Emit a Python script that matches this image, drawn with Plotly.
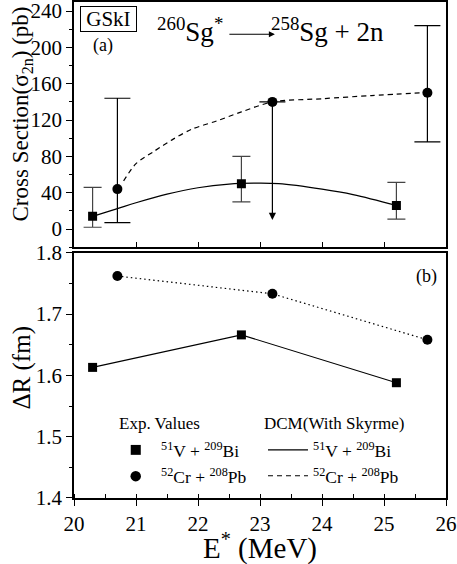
import plotly.graph_objects as go

# ---------------- data ----------------
# (a) cross sections, experimental
E_V_exp = [20.3, 22.7, 25.2]
sig_V_exp = [14, 50, 26]
sig_V_up = [32, 30, 25.5]
sig_V_dn = [12, 20, 15]

E_Cr_exp = [20.7, 23.2, 25.7]
sig_Cr_exp = [44, 140, 150]
sig_Cr_up = [100, None, 74]
sig_Cr_dn = [37, None, 54]

# upper-limit arrow for the 23.2 MeV point
limit_E = [23.2]
limit_top = [140]
limit_bottom = [10]

# (a) DCM (with Skyrme) calculations
E_V_dcm = [20.3, 20.7, 21.0, 21.5, 22.0, 22.5, 22.9, 23.3, 24.0, 24.5, 25.2]
sig_V_dcm = [14, 22.5, 29, 38.5, 45.5, 49.5, 50.5, 50, 44, 38, 26]
E_Cr_dcm = [20.8, 21.0, 21.3, 21.6, 21.9, 22.3, 22.7, 23.2, 24.0, 24.8, 25.7]
sig_Cr_dcm = [53, 72, 86, 99, 110, 119, 129, 140, 143.5, 147, 150.5]

# (b) Delta R
E_V_dR = [20.3, 22.7, 25.2]
dR_V = [1.613, 1.666, 1.588]
E_Cr_dR = [20.7, 23.2, 25.7]
dR_Cr = [1.762, 1.733, 1.658]

x_ticks = [20, 21, 22, 23, 24, 25, 26]
y1_ticks = [0, 40, 80, 120, 160, 200, 240]
y2_ticks = [1.4, 1.5, 1.6, 1.7, 1.8]

FONT = "Liberation Serif"

fig = go.Figure()

# top panel: theory curves
fig.add_trace(go.Scatter(x=E_V_dcm, y=sig_V_dcm, mode="lines", line=dict(color="black", width=1.2, shape="spline", smoothing=1.0),
                         xaxis="x", yaxis="y", showlegend=False))
fig.add_trace(go.Scatter(x=E_Cr_dcm, y=sig_Cr_dcm, mode="lines", line=dict(color="black", width=1.2, dash="5px,4px", shape="spline", smoothing=0.8),
                         xaxis="x", yaxis="y", showlegend=False))
# top panel: experiment
fig.add_trace(go.Scatter(x=E_V_exp, y=sig_V_exp, mode="markers", marker=dict(symbol="square", size=9, color="black"),
                         error_y=dict(type="data", symmetric=False, array=sig_V_up, arrayminus=sig_V_dn, color="#444", thickness=1.2, width=9),
                         xaxis="x", yaxis="y", showlegend=False))
fig.add_trace(go.Scatter(x=E_Cr_exp, y=sig_Cr_exp, mode="markers", marker=dict(symbol="circle", size=10, color="black"),
                         error_y=dict(type="data", symmetric=False, array=sig_Cr_up, arrayminus=sig_Cr_dn, color="black", thickness=1.2, width=13),
                         xaxis="x", yaxis="y", showlegend=False))

# bottom panel
fig.add_trace(go.Scatter(x=E_V_dR, y=dR_V, mode="lines+markers", line=dict(color="black", width=1.1),
                         marker=dict(symbol="square", size=9, color="black"), xaxis="x2", yaxis="y2", showlegend=False))
fig.add_trace(go.Scatter(x=E_Cr_dR, y=dR_Cr, mode="lines+markers", line=dict(color="black", width=1.2, dash="1.5px,3px"),
                         marker=dict(symbol="circle", size=10, color="black"), xaxis="x2", yaxis="y2", showlegend=False))

annotations = []
shapes = []

# upper-limit arrow
for xe, yt, yb in zip(limit_E, limit_top, limit_bottom):
    annotations.append(dict(x=xe, y=yb, ax=xe, ay=yt, xref="x", yref="y", axref="x", ayref="y",
                            text="", showarrow=True, arrowhead=2, arrowsize=1.2, arrowwidth=1.2, arrowcolor="black"))

# panel texts
annotations += [
    dict(x=0.092, y=0.965, xref="paper", yref="paper", text="&nbsp;GSkI&nbsp;", showarrow=False,
         font=dict(family=FONT, size=21, color="black"), bordercolor="black", borderwidth=1, borderpad=0,
         xanchor="center", yanchor="middle"),
    dict(x=0.077, y=0.913, xref="paper", yref="paper", text="(a)", showarrow=False,
         font=dict(family=FONT, size=18, color="black"), xanchor="center", yanchor="middle"),
    dict(x=0.313, y=0.944, xref="paper", yref="paper", text="<sup>260</sup>Sg<sup>*</sup>", showarrow=False,
         font=dict(family=FONT, size=27, color="black"), xanchor="center", yanchor="middle"),
    dict(x=0.540, y=0.935, xref="paper", yref="paper", text="", showarrow=True, ax=-47, ay=0, axref="pixel", ayref="pixel",
         arrowhead=2, arrowsize=1, arrowwidth=1.2, arrowcolor="black"),
    dict(x=0.524, y=0.944, xref="paper", yref="paper", text="<sup>258</sup>Sg + 2n", showarrow=False,
         font=dict(family=FONT, size=27, color="black"), xanchor="left", yanchor="middle"),
    dict(x=0.948, y=0.446, xref="paper", yref="paper", text="(b)", showarrow=False,
         font=dict(family=FONT, size=18, color="black"), xanchor="center", yanchor="middle"),
    # axis titles
    dict(x=-0.140, y=0.775, xref="paper", yref="paper", text="Cross Section(σ<sub>2n</sub>) (pb)", showarrow=False,
         textangle=-90, font=dict(family=FONT, size=23, color="black"), xanchor="center", yanchor="middle"),
    dict(x=-0.140, y=0.263, xref="paper", yref="paper", text="ΔR (fm)", showarrow=False,
         textangle=-90, font=dict(family=FONT, size=25, color="black"), xanchor="center", yanchor="middle"),
    dict(x=0.501, y=-0.098, xref="paper", yref="paper", text="E<sup>*</sup> (MeV)", showarrow=False,
         font=dict(family=FONT, size=29, color="black"), xanchor="center", yanchor="middle"),
    # legend
    dict(x=0.2285, y=0.150, xref="paper", yref="paper", text="Exp. Values", showarrow=False,
         font=dict(family=FONT, size=17, color="black"), xanchor="center", yanchor="middle"),
    dict(x=0.700, y=0.150, xref="paper", yref="paper", text="DCM(With Skyrme)", showarrow=False,
         font=dict(family=FONT, size=17, color="black"), xanchor="center", yanchor="middle"),
    dict(x=0.2275, y=0.097, xref="paper", yref="paper", text="<sup>51</sup>V + <sup>209</sup>Bi", showarrow=False,
         font=dict(family=FONT, size=17.5, color="black"), xanchor="left", yanchor="middle"),
    dict(x=0.2275, y=0.044, xref="paper", yref="paper", text="<sup>52</sup>Cr + <sup>208</sup>Pb", showarrow=False,
         font=dict(family=FONT, size=17.5, color="black"), xanchor="left", yanchor="middle"),
    dict(x=0.638, y=0.097, xref="paper", yref="paper", text="<sup>51</sup>V + <sup>209</sup>Bi", showarrow=False,
         font=dict(family=FONT, size=17.5, color="black"), xanchor="left", yanchor="middle"),
    dict(x=0.638, y=0.044, xref="paper", yref="paper", text="<sup>52</sup>Cr + <sup>208</sup>Pb", showarrow=False,
         font=dict(family=FONT, size=17.5, color="black"), xanchor="left", yanchor="middle"),
]

# legend glyphs (paper coordinates)
shapes += [
    dict(type="rect", xref="paper", yref="paper", x0=0.1525, x1=0.1795, y0=0.087, y1=0.107,
         fillcolor="black", line=dict(width=0)),
    dict(type="circle", xref="paper", yref="paper", x0=0.1518, x1=0.1800, y0=0.0335, y1=0.0545,
         fillcolor="black", line=dict(width=0)),
    dict(type="line", xref="paper", yref="paper", x0=0.5215, x1=0.629, y0=0.097, y1=0.097,
         line=dict(color="black", width=1.1)),
    dict(type="line", xref="paper", yref="paper", x0=0.5215, x1=0.629, y0=0.045, y1=0.045,
         line=dict(color="black", width=1.1, dash="5px,4px")),
]

axis_common = dict(showgrid=False, zeroline=False, showline=True, linecolor="black", linewidth=1.5,
                   mirror=True, tickcolor="black", tickwidth=1.3, automargin=False,
                   ticklabeloverflow="allow",
                   tickfont=dict(family=FONT, size=21, color="black"))

fig.update_layout(
    width=457, height=564,
    autosize=False,
    font=dict(family=FONT, color="black"),
    margin=dict(l=74, r=11, t=2, b=66, pad=0, autoexpand=False),
    paper_bgcolor="white", plot_bgcolor="white",
    showlegend=False,
    xaxis=dict(domain=[0, 1], anchor="y", range=[20, 26], tickvals=x_ticks, ticks="inside", ticklen=5,
               showticklabels=False, **axis_common),
    yaxis=dict(domain=[0.5056, 1], anchor="x", range=[-20, 250], tickvals=y1_ticks, ticks="outside", ticklen=6,
               minor=dict(dtick=20, tick0=0, ticks="outside", ticklen=3, tickcolor="black", tickwidth=1.2),
               **axis_common),
    xaxis2=dict(domain=[0, 1], anchor="y2", range=[20, 26], tickvals=x_ticks, ticks="outside", ticklen=6,
                minor=dict(dtick=0.5, tick0=20, ticks="inside", ticklen=4, tickcolor="black", tickwidth=1.2),
                **axis_common),
    yaxis2=dict(domain=[0, 0.4945], anchor="x2", range=[1.4, 1.8], tickvals=y2_ticks, tickformat=".1f",
                ticks="outside", ticklen=6,
                minor=dict(dtick=0.05, tick0=1.4, ticks="outside", ticklen=3, tickcolor="black", tickwidth=1.2),
                **axis_common),
    annotations=annotations,
    shapes=shapes,
)

fig.write_html("out.html", config={"displayModeBar": False},
               post_script="document.body.style.margin='0';document.body.style.overflow='hidden';")
